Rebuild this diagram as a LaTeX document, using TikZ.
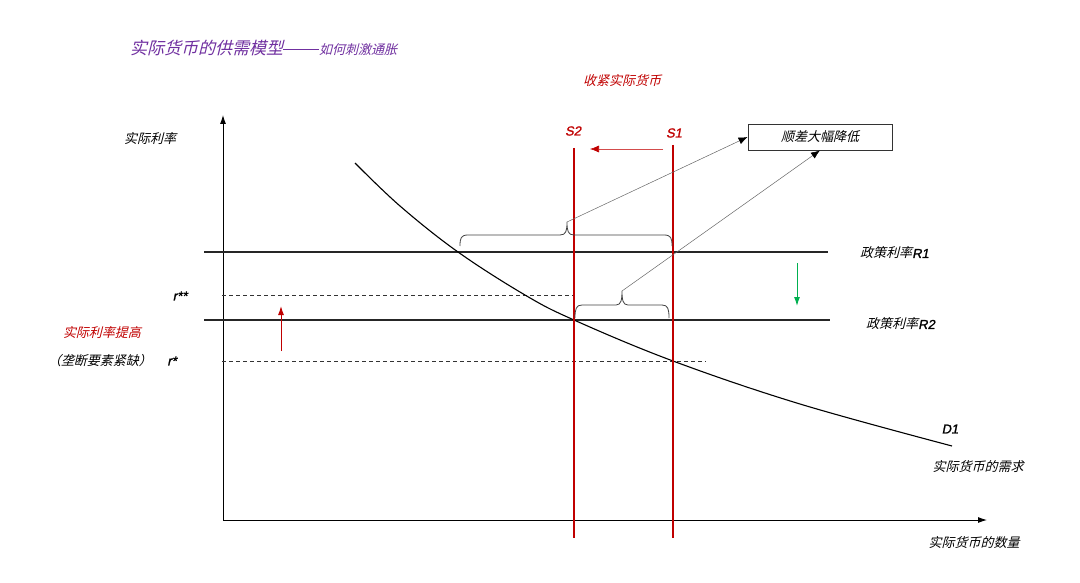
\documentclass[tikz,border=0pt]{standalone}
\usepackage{fontspec}
\setmainfont{Liberation Sans}
\newfontfamily\cjk[FakeSlant=0.25]{Noto Sans CJK SC}
\newfontfamily\latn[FakeSlant=0.2,FakeBold=1.5]{Liberation Sans}
\usetikzlibrary{arrows.meta}
\definecolor{tpurple}{RGB}{112,48,160}
\definecolor{tred}{RGB}{192,0,0}
\definecolor{tgreen}{RGB}{0,176,80}
\tikzset{
  lbl/.style={font=\cjk\fontsize{13}{13}\selectfont, inner sep=0pt},
  ltn/.style={font=\latn\fontsize{13}{13}\selectfont, inner sep=0pt},
  rline/.style={draw=tred, line width=1.1pt},
  hline/.style={draw=black!85, line width=1.1pt},
  dline/.style={draw=black!80, dashed, dash pattern=on 4pt off 3pt, line width=0.6pt},
  brace/.style={draw=black!75, line width=0.8pt},
  pointer/.style={draw=black!60, line width=0.5pt, -{Latex[length=9pt,width=7pt,color=black]}},
}
\begin{document}
\begin{tikzpicture}[x=1pt,y=-1pt]
\useasboundingbox (0,0) rectangle (1080,583);
% title
\node[anchor=base west, inner sep=0pt, text=tpurple] (title) at (130,55)
  {\cjk\fontsize{17}{17}\selectfont 实际货币的供需模型\rule[5pt]{36pt}{1.2pt}\fontsize{13}{13}\selectfont 如何刺激通胀};
\node[lbl, text=tred] (tighten) at (622,81) {收紧实际货币};
% axes
\coordinate (O) at (223,520);
\coordinate (ytop) at (223,115);
\coordinate (xend) at (987,520);
\draw[line width=0.9pt, -{Latex[length=9pt,width=6pt]}] (O) -- (ytop);
\draw[line width=0.9pt, -{Latex[length=9pt,width=6pt]}] (O) -- (xend);
\node[lbl] (ylab) at (150,139) {实际利率};
\node[lbl] (xlab) at (974,543) {实际货币的数量};
% policy rate lines
\coordinate (r1a) at (204,252); \coordinate (r1b) at (828,252);
\coordinate (r2a) at (204,320); \coordinate (r2b) at (830,320);
\draw[hline] (r1a) -- (r1b);
\draw[hline] (r2a) -- (r2b);
\node[lbl, anchor=west] (R1) at (860,253) {政策利率\latn R1};
\node[lbl, anchor=west] (R2) at (866,324) {政策利率\latn R2};
% dashed levels
\coordinate (rssa) at (222,295); \coordinate (rssb) at (573,295);
\coordinate (rsa) at (222,361); \coordinate (rsb) at (706,361);
\draw[dline] (rssa) -- (rssb);
\draw[dline] (rsa) -- (rsb);
\node[ltn] (rss) at (180,296) {r**};
\node[ltn] (rs) at (172,361) {r*};
\node[lbl, text=tred] (up) at (102,333) {实际利率提高};
\node[lbl] (mono) at (100,361) {（垄断要素紧缺）};
% demand curve
\draw[line width=1.1pt] plot[smooth, tension=0.6] coordinates
  {(355,163) (400,206) (458,252) (525,295) (574,320) (673,361) (800,404) (952,446)};
\node[ltn] (D1) at (950,429) {D1};
\node[lbl] (dlab) at (978,467) {实际货币的需求};
% supply lines
\coordinate (s2t) at (574,148); \coordinate (s2b) at (574,538);
\coordinate (s1t) at (673,145); \coordinate (s1b) at (673,538);
\draw[rline] (s2t) -- (s2b);
\draw[rline] (s1t) -- (s1b);
\node[ltn, text=tred] (S2) at (573,131) {S2};
\node[ltn, text=tred] (S1) at (674,133) {S1};
\coordinate (sa1) at (663,149); \coordinate (sa2) at (590,149);
\draw[draw=tred!70, line width=0.6pt, -{Latex[length=9pt,width=7pt,color=tred]}] (sa1) -- (sa2);
% policy arrows
\coordinate (g1) at (797,263); \coordinate (g2) at (797,306);
\draw[draw=tgreen, line width=1pt, -{Latex[length=9pt,width=6pt]}] (g1) -- (g2);
\coordinate (ra1) at (281,351); \coordinate (ra2) at (281,306);
\draw[draw=tred, line width=1pt, -{Latex[length=9pt,width=6pt]}] (ra1) -- (ra2);
% box
\node[draw=black!80, line width=0.8pt, minimum width=144pt, minimum height=26pt, inner sep=0pt,
  font=\cjk\fontsize{13}{13}\selectfont] (box) at (820,137) {顺差大幅降低};
% braces
\coordinate (ub) at (567,222);
\draw[brace] (460,246) .. controls (460,238) and (461,235) .. (468,235) -- (560,235)
  .. controls (566,235) and (567,231) .. (ub) .. controls (567,231) and (568,235) .. (574,235)
  -- (664,235) .. controls (671,235) and (672,238) .. (672,246);
\coordinate (lb) at (622,291);
\draw[brace] (575,318) .. controls (575,309) and (576,305) .. (582,305) -- (616,305)
  .. controls (621,305) and (622,300) .. (lb) .. controls (622,300) and (623,305) .. (628,305)
  -- (662,305) .. controls (668,305) and (669,309) .. (669,318);
% pointers
\draw[pointer] (ub) -- (box.west);
\draw[pointer] (lb) -- (box.south);
\end{tikzpicture}
\end{document}
